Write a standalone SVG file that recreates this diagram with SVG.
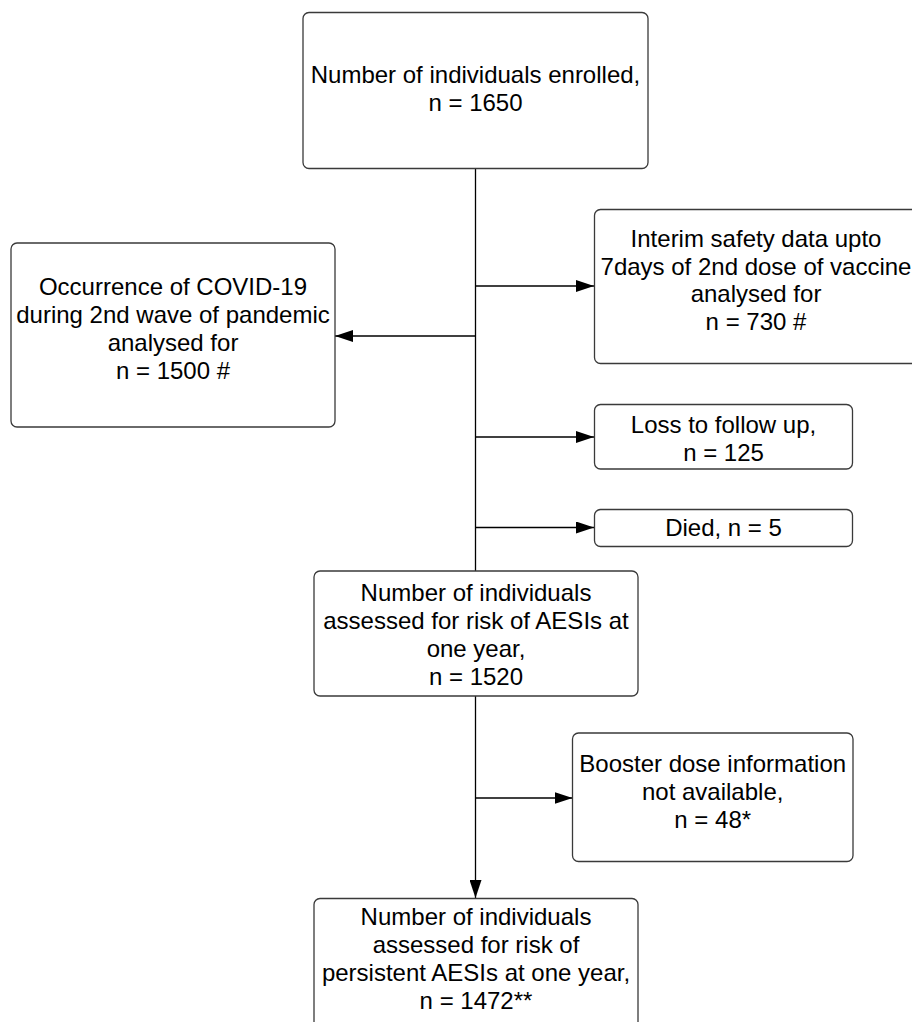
<svg xmlns="http://www.w3.org/2000/svg" width="912" height="1022" viewBox="0 0 912 1022">
  <style>
    .box { fill: #ffffff; stroke: #3a3a3a; stroke-width: 1.3; }
    .lbl { font-family: "Liberation Sans", Arial, sans-serif; font-size: 24px; fill: #000000; text-anchor: middle; }
    .wire { fill: none; stroke: #000000; stroke-width: 1.3; }
  </style>
  <defs>
    <marker id="arrow" viewBox="0 0 18 12" refX="18" refY="6" markerWidth="18" markerHeight="12" markerUnits="userSpaceOnUse" orient="auto">
      <path d="M0,0 L18,6 L0,12 Z" fill="#000000"/>
    </marker>
  </defs>

  <rect width="912" height="1022" fill="#ffffff"/>

  <!-- connectors -->
  <g id="connectors">
    <line class="wire" x1="475.5" y1="168" x2="475.5" y2="571"/>
    <line class="wire" x1="475.5" y1="286" x2="594" y2="286" marker-end="url(#arrow)"/>
    <line class="wire" x1="475.5" y1="336" x2="335" y2="336" stroke="#555" marker-end="url(#arrow)"/>
    <line class="wire" x1="475.5" y1="437" x2="594" y2="437" marker-end="url(#arrow)"/>
    <line class="wire" x1="475.5" y1="527.5" x2="594" y2="527.5" marker-end="url(#arrow)"/>
    <line class="wire" x1="475.5" y1="696" x2="475.5" y2="898" marker-end="url(#arrow)"/>
    <line class="wire" x1="475.5" y1="798" x2="572.5" y2="798" marker-end="url(#arrow)"/>
  </g>

  <!-- enrolled -->
  <g id="enrolled">
    <rect class="box" x="303" y="12.5" width="345" height="156" rx="6"/>
    <text class="lbl" x="475.5" y="83">Number of individuals enrolled,</text>
    <text class="lbl" x="475.5" y="111">n = 1650</text>
  </g>

  <!-- interim safety -->
  <g id="interim">
    <rect class="box" x="594.5" y="209.5" width="324" height="154" rx="6"/>
    <text class="lbl" x="756" y="247">Interim safety data upto</text>
    <text class="lbl" x="756" y="275">7days of 2nd dose of vaccine</text>
    <text class="lbl" x="756" y="302">analysed for</text>
    <text class="lbl" x="756" y="330">n = 730 #</text>
  </g>

  <!-- covid occurrence -->
  <g id="covid">
    <rect class="box" x="11" y="243" width="324" height="184" rx="6"/>
    <text class="lbl" x="173" y="295">Occurrence of COVID-19</text>
    <text class="lbl" x="173" y="323">during 2nd wave of pandemic</text>
    <text class="lbl" x="173" y="351">analysed for</text>
    <text class="lbl" x="173" y="379">n = 1500 #</text>
  </g>

  <!-- loss to follow up -->
  <g id="loss">
    <rect class="box" x="594.5" y="404.5" width="258" height="64.5" rx="6"/>
    <text class="lbl" x="723.5" y="433">Loss to follow up,</text>
    <text class="lbl" x="723.5" y="461">n = 125</text>
  </g>

  <!-- died -->
  <g id="died">
    <rect class="box" x="594.5" y="509.5" width="258" height="37" rx="6"/>
    <text class="lbl" x="723.5" y="536">Died, n = 5</text>
  </g>

  <!-- one-year assessment -->
  <g id="assessed">
    <rect class="box" x="314" y="571" width="324" height="125" rx="6"/>
    <text class="lbl" x="476" y="601">Number of individuals</text>
    <text class="lbl" x="476" y="629">assessed for risk of AESIs at</text>
    <text class="lbl" x="476" y="657">one year,</text>
    <text class="lbl" x="476" y="685">n = 1520</text>
  </g>

  <!-- booster info -->
  <g id="booster">
    <rect class="box" x="572.5" y="733" width="280.5" height="128.5" rx="6"/>
    <text class="lbl" x="712.7" y="772">Booster dose information</text>
    <text class="lbl" x="712.7" y="800">not available,</text>
    <text class="lbl" x="712.7" y="828">n = 48*</text>
  </g>

  <!-- persistent AESIs -->
  <g id="persistent">
    <rect class="box" x="314" y="898.5" width="324" height="140" rx="6"/>
    <text class="lbl" x="476" y="925">Number of individuals</text>
    <text class="lbl" x="476" y="953">assessed for risk of</text>
    <text class="lbl" x="476" y="981">persistent AESIs at one year,</text>
    <text class="lbl" x="476" y="1009">n = 1472**</text>
  </g>
</svg>
